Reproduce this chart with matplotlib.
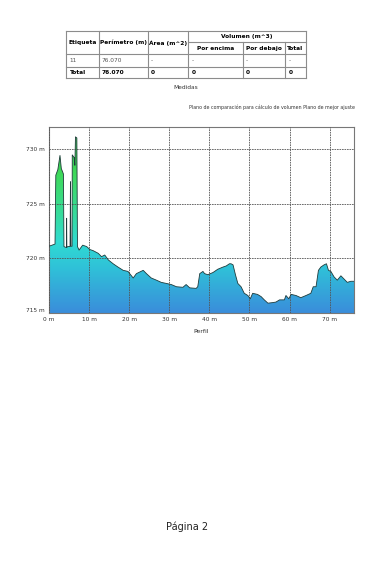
import numpy as np
import matplotlib.pyplot as plt
from matplotlib.colors import LinearSegmentedColormap
from matplotlib.patches import Polygon

# Profile data (distance in m, elevation in m)
dist = [0.0, 1.5, 1.7, 2.2, 2.74, 3.07, 3.4, 3.6, 3.73, 4.2, 4.35, 4.4, 4.45, 4.7, 5.25,
        5.35, 5.45, 5.75, 5.8, 6.3, 6.45, 6.6, 6.95, 7.1, 7.5, 8.4, 9.4, 10.2, 11.0, 12.3,
        13.1, 13.9, 14.8, 16.0, 17.2, 18.5, 19.7, 21.0, 21.8, 23.5, 24.3, 25.5,
        26.8, 28.0, 29.3, 30.5, 31.8, 33.4, 34.2, 35.1, 36.7, 37.1, 37.6, 38.4,
        38.8, 39.6, 40.9, 42.1, 43.4, 44.2, 45.0, 45.4, 45.9, 46.5, 47.1, 47.9,
        48.7, 49.6, 50.2, 50.8, 52.0, 52.9, 53.7, 54.6, 55.8, 56.6, 57.5, 58.7,
        59.1, 59.8, 60.4, 61.6, 62.8, 64.1, 65.3, 65.9, 66.6, 67.2, 67.8, 68.6,
        69.2, 69.7, 70.3, 71.1, 71.9, 72.8, 73.6, 74.4, 75.3, 76.07]
elev = [721.1, 721.3, 727.6, 728.1, 729.4, 728.2, 727.9, 727.7, 721.07, 721.0, 721.0, 723.66, 721.0, 721.07, 721.07,
        727.0, 721.1, 721.1, 729.45, 729.2, 728.5, 731.1, 731.0, 721.07, 720.75, 721.2, 721.07, 720.8, 720.7, 720.45,
        720.15, 720.3, 719.85, 719.5, 719.2, 718.9, 718.8, 718.2, 718.6, 718.9, 718.6, 718.2,
        718.0, 717.8, 717.7, 717.6, 717.4, 717.35, 717.6, 717.3, 717.25, 717.4, 718.6, 718.8,
        718.6, 718.5, 718.7, 719.0, 719.2, 719.3, 719.5, 719.5, 719.4, 718.5, 717.7, 717.4,
        716.8, 716.6, 716.3, 716.8, 716.7, 716.5, 716.2, 715.9, 715.95, 716.0, 716.2, 716.2,
        716.6, 716.3, 716.7, 716.6, 716.4, 716.6, 716.8, 717.4, 717.4, 718.9, 719.2, 719.4,
        719.5, 718.9, 718.8, 718.3, 718.0, 718.4, 718.1, 717.8, 717.9, 717.9]

x_ticks = [0, 10, 20, 30, 40, 50, 60, 70]
y_ticks = [715, 720, 725, 730]

# Table contents
col_headers = ["Etiqueta", "Perímetro (m)", "Área (m^2)"]
vol_header = "Volumen (m^3)"
vol_subheaders = ["Por encima", "Por debajo", "Total"]
row_data = ["11", "76.070", "-", "-", "-", "-"]
row_total = ["Total", "76.070", "0", "0", "0", "0"]

fig = plt.figure(figsize=(3.75, 5.61), dpi=100)

# ---- table drawn in page pixel coords ----
page = fig.add_axes([0, 0, 1, 1])
page.set_xlim(0, 375)
page.set_ylim(561, 0)
page.axis("off")

cx = [66, 98.5, 147.5, 188, 242.5, 285, 306]
ry = [30.7, 41.7, 54.3, 67, 77.7]
lc = "#8c8c8c"
lw = 0.8
page.plot([cx[0], cx[-1]], [ry[0], ry[0]], color=lc, lw=lw)
page.plot([cx[3], cx[-1]], [ry[1], ry[1]], color=lc, lw=lw)
for y in ry[2:]:
    page.plot([cx[0], cx[-1]], [y, y], color=lc, lw=lw)
for i, x in enumerate(cx):
    y0 = ry[1] if i in (4, 5) else ry[0]
    page.plot([x, x], [y0, ry[-1]], color=lc, lw=lw)

fs = 4.2
for i, h in enumerate(col_headers):
    page.text((cx[i] + cx[i + 1]) / 2, (ry[0] + ry[2]) / 2, h, fontsize=fs,
              fontweight="bold", ha="center", va="center")
page.text((cx[3] + cx[6]) / 2, (ry[0] + ry[1]) / 2, vol_header, fontsize=fs,
          fontweight="bold", ha="center", va="center")
for i, h in enumerate(vol_subheaders):
    page.text((cx[3 + i] + cx[4 + i]) / 2, (ry[1] + ry[2]) / 2, h, fontsize=fs,
              fontweight="bold", ha="center", va="center")
for i, v in enumerate(row_data):
    page.text(cx[i] + 3.5, (ry[2] + ry[3]) / 2, v, fontsize=fs, color="#555555",
              ha="left", va="center")
for i, v in enumerate(row_total):
    page.text(cx[i] + 3.5, (ry[3] + ry[4]) / 2, v, fontsize=fs, fontweight="bold",
              ha="left", va="center")

page.text(186, 87, "Medidas", fontsize=4.2, ha="center", va="center", color="#333333")
page.text(355, 107, "Plano de comparación para cálculo de volumen Plano de mejor ajuste",
          fontsize=3.4, ha="right", va="center", color="#333333")
page.text(187, 527, "Página 2", fontsize=7, ha="center", va="center", color="#222222")

# ---- profile chart ----
ax = fig.add_axes([49 / 375, 1 - 313 / 561, 305 / 375, 186 / 561])
ax.set_xlim(0, 76.07)
ax.set_ylim(715, 732)

cmap = LinearSegmentedColormap.from_list("elev", [
    (0.0, "#3a8ddb"),
    (0.25, "#2fc3d8"),
    (0.38, "#30dbd2"),
    (0.52, "#36dca0"),
    (0.75, "#3fd95a"),
    (1.0, "#2fb045"),
])
grad = np.linspace(0, 1, 256).reshape(-1, 1)
im = ax.imshow(grad, extent=[0, 76.07, 715, 732], origin="lower", cmap=cmap,
               aspect="auto", zorder=1)
verts = [(dist[0], 715)] + list(zip(dist, elev)) + [(dist[-1], 715)]
poly = Polygon(verts, closed=True, facecolor="none", edgecolor="none")
ax.add_patch(poly)
im.set_clip_path(poly)
ax.plot(dist, elev, color="#1f3b3b", lw=0.6, zorder=3)

ax.set_xticks(x_ticks)
ax.set_xticklabels([f"{t} m" for t in x_ticks])
ax.set_yticks(y_ticks)
ax.set_yticklabels([f"{t} m" for t in y_ticks])
ax.tick_params(labelsize=4.2, length=0, pad=3, colors="#333333")
ax.get_yticklabels()[0].set_va("bottom")
ax.grid(True, color="#555555", linestyle=(0, (2, 1)), linewidth=0.6, zorder=2)
ax.set_axisbelow(False)
for s in ax.spines.values():
    s.set_color("#777777")
    s.set_linewidth(0.8)
ax.set_xlabel("Perfil", fontsize=4.5, color="#333333", labelpad=5)

fig.savefig("out.png", dpi=100)
